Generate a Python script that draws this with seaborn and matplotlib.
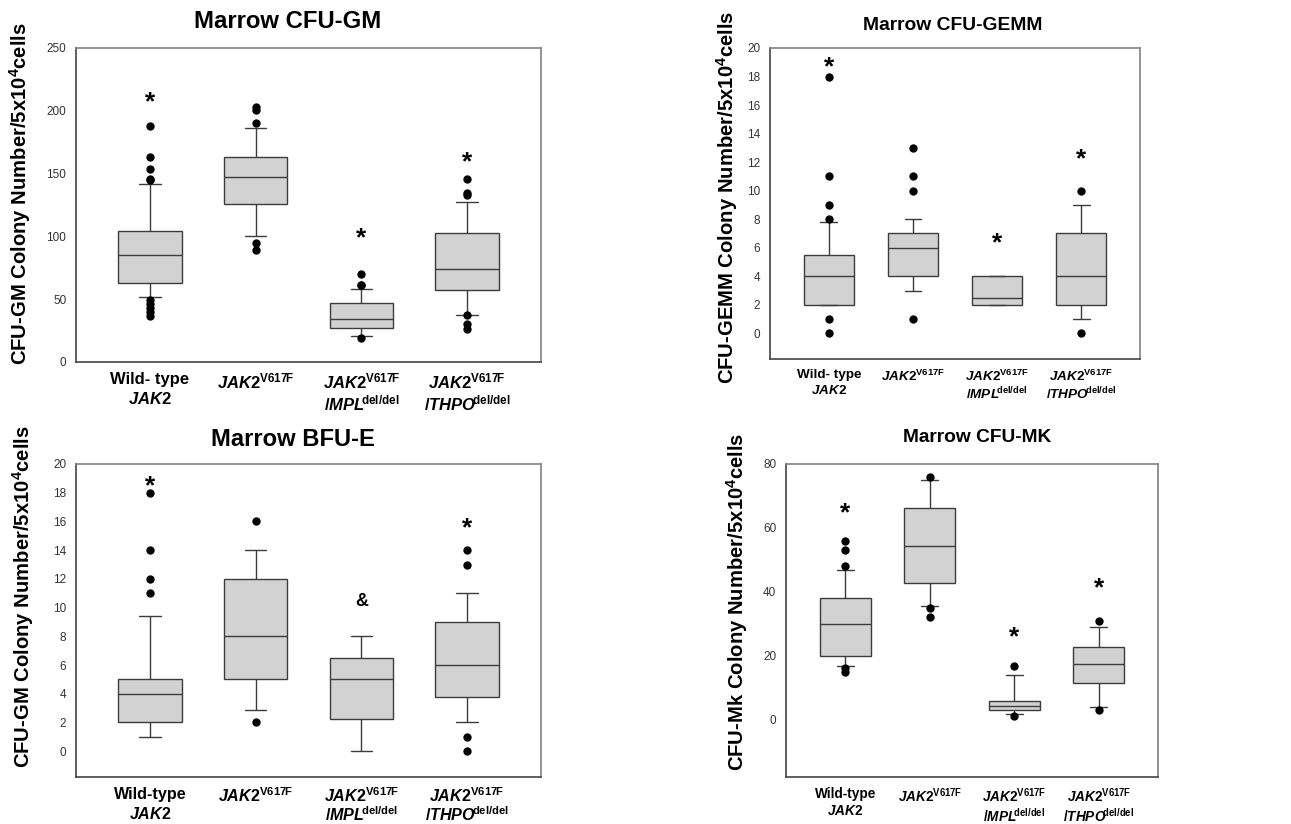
import matplotlib

matplotlib.use("Agg")

import matplotlib.pyplot as plt
import numpy as np
import pandas as pd
import seaborn as sns


GROUPS = ["wt", "jak2", "mpl", "thpo"]
TICK_LABELS = [
    "Wild- type\n$\\mathit{JAK2}$",
    "$\\mathit{JAK2}^{\\mathrm{V617F}}$",
    "$\\mathit{JAK2}^{\\mathrm{V617F}}$\n$\\mathit{/MPL}^{\\!\\!\\mathrm{del/del}}$",
    "$\\mathit{JAK2}^{\\mathrm{V617F}}$\n$\\mathit{/THPO}^{\\!\\!\\mathrm{del/del}}$",
]
TICK_LABELS_BFU = ["Wild-type\n$\\mathit{JAK2}$"] + TICK_LABELS[1:]

# box summaries: lower whisker, q1, median, q3, upper whisker
GM_LO = [51.5, 100.4, 20.7, 37.7]
GM_Q1 = [63, 125.4, 26.8, 57]
GM_MED = [85, 147, 34, 74.4]
GM_Q3 = [104, 163, 46.8, 102.5]
GM_HI = [141.6, 186, 58.4, 127.5]
GM_OUT = [[187.8, 163, 154, 146, 145, 49, 46, 43, 40, 37],
          [202.7, 201, 190, 95, 89],
          [70, 61.6, 61, 19.4],
          [146, 134.7, 133, 37.2, 30, 26.6]]
GM_MARK = ["*", None, "*", "*"]
GM_MARK_Y = [212.5, None, 104, 164.7]

GEMM_LO = [2, 3, 2, 1]
GEMM_Q1 = [2, 4, 2, 2]
GEMM_MED = [4, 6, 2.5, 4]
GEMM_Q3 = [5.5, 7, 4, 7]
GEMM_HI = [7.8, 8, 4, 9]
GEMM_OUT = [[18, 11, 9, 8, 1, 0], [13, 11, 10, 1], [], [10, 0]]
GEMM_MARK = ["*", None, "*", "*"]
GEMM_MARK_Y = [19.1, None, 6.8, 12.7]

BFU_LO = [1, 2.9, 0, 2]
BFU_Q1 = [2, 5, 2.25, 3.75]
BFU_MED = [4, 8, 5, 6]
BFU_Q3 = [5, 12, 6.5, 9]
BFU_HI = [9.4, 14, 8, 11]
BFU_OUT = [[18, 14, 12, 11], [16, 2], [], [14, 13, 1, 0]]
BFU_MARK = ["*", None, "&", "*"]
BFU_MARK_Y = [18.9, None, 10.4, 16.0]

MK_LO = [16.9, 35.6, 1.6, 4.0]
MK_Q1 = [20, 42.6, 2.9, 11.5]
MK_MED = [30, 54.4, 4.2, 17.5]
MK_Q3 = [38.1, 66.1, 5.7, 22.7]
MK_HI = [46.9, 75.1, 13.9, 29.1]
MK_OUT = [[56, 53, 48, 16, 15], [76, 35, 32], [16.9, 1.0], [31, 2.9]]
MK_MARK = ["*", None, "*", "*"]
MK_MARK_Y = [66.6, None, 27.8, 43.1]

W, H = 1291, 824
BOX_FILL = "#d2d2d2"
EDGE = "#3c3c3c"

PANELS = [
    dict(title="Marrow CFU-GM", ylabel="CFU-GM Colony Number/5x$10^{4}$cells",
         stats=(GM_LO, GM_Q1, GM_MED, GM_Q3, GM_HI), out=GM_OUT, marks=GM_MARK, marks_y=GM_MARK_Y,
         labels=TICK_LABELS, ylim=(0, 250), yticks=np.arange(0, 251, 50),
         box=(76, 48, 541, 362), title_xy=(288, 21), ylabel_xy=(20, 194),
         title_fs=17.2, tick_fs=12, math_ls=1.12),
    dict(title="Marrow CFU-GEMM", ylabel="CFU-GEMM Colony Number/5x$10^{4}$cells",
         stats=(GEMM_LO, GEMM_Q1, GEMM_MED, GEMM_Q3, GEMM_HI), out=GEMM_OUT, marks=GEMM_MARK,
         marks_y=GEMM_MARK_Y, labels=TICK_LABELS, ylim=(-1.8, 20), yticks=np.arange(0, 21, 2),
         box=(770, 48, 1140, 359), title_xy=(953, 25), ylabel_xy=(727, 197),
         title_fs=13.9, tick_fs=9.7, math_ls=1.12),
    dict(title="Marrow BFU-E", ylabel="CFU-GM Colony Number/5x$10^{4}$cells",
         stats=(BFU_LO, BFU_Q1, BFU_MED, BFU_Q3, BFU_HI), out=BFU_OUT, marks=BFU_MARK,
         marks_y=BFU_MARK_Y, labels=TICK_LABELS_BFU, ylim=(-1.8, 20), yticks=np.arange(0, 21, 2),
         box=(76, 464, 541, 777), title_xy=(293, 440), ylabel_xy=(23, 597),
         title_fs=17.1, tick_fs=11.6, math_ls=1.0),
    dict(title="Marrow CFU-MK", ylabel="CFU-Mk Colony Number/5x$10^{4}$cells",
         stats=(MK_LO, MK_Q1, MK_MED, MK_Q3, MK_HI), out=MK_OUT, marks=MK_MARK, marks_y=MK_MARK_Y,
         labels=TICK_LABELS_BFU, ylim=(-18, 80), yticks=np.arange(0, 81, 20),
         box=(786, 464, 1158, 777), title_xy=(977, 438), ylabel_xy=(737, 602),
         title_fs=13.8, tick_fs=9.8, math_ls=1.08),
]

sns.set_style("white")
plt.rcParams["font.family"] = ["Liberation Sans", "DejaVu Sans"]
plt.rcParams["text.color"] = "black"
plt.rcParams["xtick.labelcolor"] = "black"
plt.rcParams["mathtext.fontset"] = "custom"
plt.rcParams["mathtext.rm"] = "Liberation Sans:bold"
plt.rcParams["mathtext.bf"] = "Liberation Sans:bold"
plt.rcParams["mathtext.it"] = "Liberation Sans:italic:bold"
plt.rcParams["mathtext.default"] = "rm"


def draw_panel(fig, p):
    x0, y0, x1, y1 = p["box"]
    ax = fig.add_axes([x0 / W, 1 - y1 / H, (x1 - x0) / W, (y1 - y0) / H])

    box_df = pd.DataFrame({
        "group": np.repeat(GROUPS, 5),
        "value": np.column_stack(p["stats"]).ravel(),
    })
    sns.boxplot(data=box_df, x="group", y="value", order=GROUPS, whis=(0, 100),
                width=0.6, color=BOX_FILL, linecolor=EDGE, linewidth=1.0,
                showfliers=False, capwidths=0.2, ax=ax)

    out_df = pd.DataFrame({
        "group": [g for g, vals in zip(GROUPS, p["out"]) for _ in vals],
        "value": [v for vals in p["out"] for v in vals],
    })
    sns.stripplot(data=out_df, x="group", y="value", order=GROUPS, jitter=False,
                  color="black", size=6, linewidth=0, ax=ax, zorder=3)

    for i, (mark, y) in enumerate(zip(p["marks"], p["marks_y"])):
        if mark is None:
            continue
        size = 19 if mark == "*" else 13
        off = -5 if mark == "*" else 0
        ax.annotate(mark, (i, y), xytext=(0, off), textcoords="offset points",
                    ha="center", va="center", fontsize=size, fontweight="bold", color="black")

    ax.set_xlim(-0.7, 3.7)
    ax.set_ylim(*p["ylim"])
    ax.set_yticks(p["yticks"])
    ax.set_yticklabels([f"{t:g}" for t in p["yticks"]], fontsize=8.5, color="#333333")
    ax.set_xticks(range(len(GROUPS)))
    ax.set_xticklabels(p["labels"], fontsize=p["tick_fs"], fontweight="bold", color="black")
    for lab in ax.get_xticklabels():
        lab.set_linespacing(1.3 if lab.get_text().startswith("Wild") else p["math_ls"])
    ax.tick_params(axis="x", length=4, width=1, color="#555555", pad=3)
    ax.tick_params(axis="y", length=4, width=1, color="#555555", pad=3)
    ax.set_xlabel("")
    ax.set_ylabel("")
    for side, sp in ax.spines.items():
        sp.set_visible(True)
        sp.set_linewidth(1.2)
        sp.set_color("#444444" if side in ("left", "bottom") else "#808080")

    tx, ty = p["title_xy"]
    fig.text(tx / W, 1 - ty / H, p["title"], ha="center", va="center",
             fontsize=p["title_fs"], fontweight="bold", color="black")
    lx, ly = p["ylabel_xy"]
    fig.text(lx / W, 1 - ly / H, p["ylabel"], ha="center", va="center",
             rotation=90, fontsize=14.6, fontweight="bold", color="black")


fig = plt.figure(figsize=(W / 100, H / 100), dpi=100)
for panel in PANELS:
    draw_panel(fig, panel)

fig.savefig("out.png", dpi=100)
plt.close(fig)
